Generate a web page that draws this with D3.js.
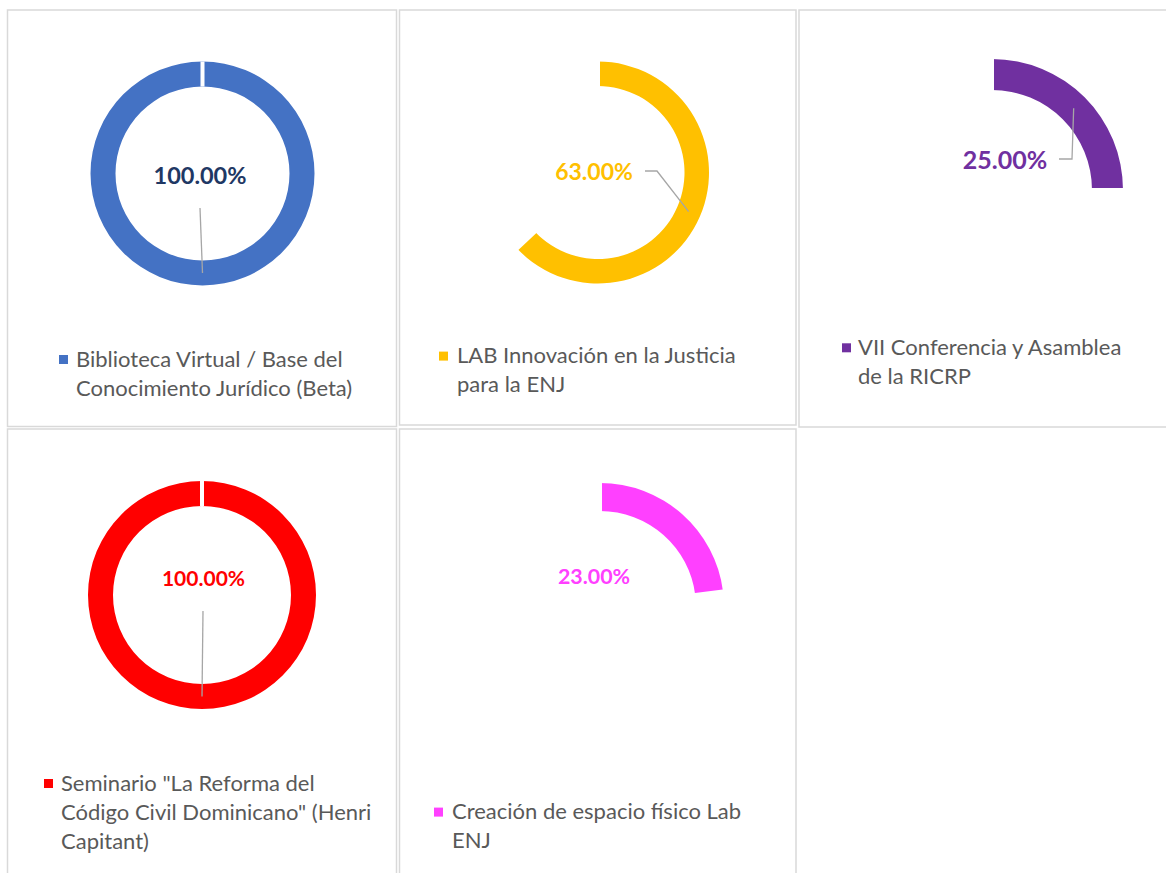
<!DOCTYPE html>
<html>
<head>
<meta charset="utf-8">
<script src="https://cdn.jsdelivr.net/npm/d3@7"></script>
<style>
  html, body { margin: 0; padding: 0; background: #ffffff; }
  svg { display: block; }
</style>
</head>
<body>
<svg id="chart" width="1166" height="873"></svg>
<script>
// ---- data ----
const categories = [
  "Biblioteca Virtual / Base del\nConocimiento Jurídico (Beta)",
  "LAB Innovación en la Justicia\npara la ENJ",
  "VII Conferencia y Asamblea\nde la RICRP",
  "Seminario \"La Reforma del\nCódigo Civil Dominicano\" (Henri\nCapitant)",
  "Creación de espacio físico Lab\nENJ"
];
const values = [1.00, 0.63, 0.25, 1.00, 0.23];

// ---- styles ----
const sliceColors = ["#4472C4", "#FFC000", "#7030A0", "#FF0000", "#FF40FF"];
const labelColors = ["#1F3864", "#FFC000", "#7030A0", "#FF0000", "#FF40FF"];

// ---- layout (one entry per panel) ----
const layout = [
  {box:[7.5,10,396.5,426.5], cx:202.5, cy:173.5, r:112, ri:87, lx:200, ly:184, fs:23.5, leader:[[200,208]], mx:59, tx:76, ty:366.7},
  {box:[399.5,10,796,425],   cx:598,   cy:172.5, r:111, ri:86.5, lx:594, ly:180, fs:23, leader:[[645,171],[657,171]], mx:439, tx:457, ty:363.3},
  {box:[799,10,1200,427],    cx:992,   cy:190,   r:131, ri:100, lx:1005, ly:169, fs:25, leader:[[1059,159],[1072,159]], mx:842, tx:858, ty:355},
  {box:[7.5,429,396.5,900],  cx:202,   cy:595,   r:114, ri:89, lx:203.5, ly:586, fs:21, leader:[[203,611]], mx:44, tx:61, ty:790.7},
  {box:[399.5,429,796,900],  cx:600,   cy:607,   r:124, ri:96, lx:594, ly:584, fs:21.4, leader:null, mx:434, tx:452, ty:819.3}
];

const svg = d3.select("#chart");
const fmt = d3.format(".2%");
const pie = d3.pie().sort(null).value(d => d);
const legendFont = "Lato, 'Open Sans', sans-serif";
const legendSize = 22;
const lineGap = 29;

values.forEach((v, i) => {
  const L = layout[i];
  const g = svg.append("g");

  // panel border
  g.append("rect")
    .attr("x", L.box[0]).attr("y", L.box[1])
    .attr("width", L.box[2] - L.box[0]).attr("height", L.box[3] - L.box[1])
    .attr("fill", "none").attr("stroke", "#D9D9D9").attr("stroke-width", 1.5);

  const arc = d3.arc().innerRadius(L.ri).outerRadius(L.r);
  const slices = pie([v, 1 - v]);
  const dg = g.append("g").attr("transform", `translate(${L.cx},${L.cy})`);

  dg.selectAll("path")
    .data(slices)
    .join("path")
    .attr("d", arc)
    .attr("fill", (d, j) => j === 0 ? sliceColors[i] : "none")
    .attr("stroke", (d, j) => j === 0 ? "none" : "#FFFFFF")
    .attr("stroke-width", 4);

  // leader line to the slice centroid
  if (L.leader) {
    const c = arc.centroid(slices[0]);
    const pts = L.leader.concat([[L.cx + c[0], L.cy + c[1]]]);
    g.append("path")
      .attr("d", d3.line()(pts))
      .attr("fill", "none")
      .attr("stroke", "#A6A6A6")
      .attr("stroke-width", 1.3);
  }

  // data label
  g.append("text")
    .attr("x", L.lx).attr("y", L.ly)
    .attr("text-anchor", "middle")
    .attr("font-family", legendFont)
    .attr("font-weight", "bold")
    .attr("font-size", L.fs)
    .attr("fill", labelColors[i])
    .text(fmt(v));

  // legend
  g.append("rect")
    .attr("x", L.mx).attr("y", L.ty - 11.7)
    .attr("width", 9).attr("height", 9)
    .attr("fill", sliceColors[i]);

  const t = g.append("text")
    .attr("font-family", legendFont)
    .attr("font-size", legendSize)
    .attr("fill", "#595959");
  categories[i].split("\n").forEach((line, k) => {
    t.append("tspan").attr("x", L.tx).attr("y", L.ty + k * lineGap).text(line);
  });
});
</script>
</body>
</html>
